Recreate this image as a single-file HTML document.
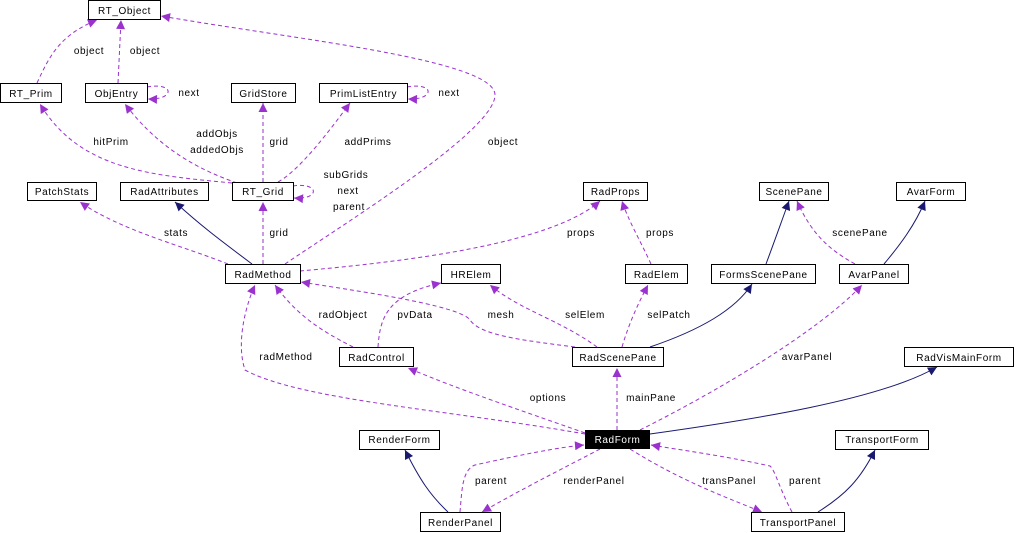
<!DOCTYPE html>
<html><head><meta charset="utf-8"><style>
html,body{margin:0;padding:0;background:#fff;}
svg{display:block;}
text{font-family:"Liberation Sans",sans-serif;font-size:10px;letter-spacing:0.6px;fill:#000;}
.b{fill:#fff;stroke:#000;stroke-width:1;}
.p{fill:none;stroke:#9a32cd;stroke-width:1;stroke-dasharray:4,3;}
.n{fill:none;stroke:#191970;stroke-width:1;}
</style></head><body>
<svg width="1016" height="533" viewBox="0 0 1016 533" xmlns="http://www.w3.org/2000/svg">
<defs>
<marker id="ap" viewBox="0 0 10 10" refX="10" refY="5" markerWidth="12" markerHeight="9" markerUnits="userSpaceOnUse" orient="auto"><path d="M0,0 L10,5 L0,10 z" fill="#9a32cd"/></marker>
<marker id="an" viewBox="0 0 10 10" refX="10" refY="5" markerWidth="12" markerHeight="9" markerUnits="userSpaceOnUse" orient="auto"><path d="M0,0 L10,5 L0,10 z" fill="#191970"/></marker>
</defs>
<g>
<path class="p" marker-end="url(#ap)" d="M37,83 C50,55 60,35 97,20"/>
<path class="p" marker-end="url(#ap)" d="M118,83 L121,20"/>
<path class="p" marker-end="url(#ap)" d="M285,264 C350,220 495,130 495,95 C495,60 300,40 161,16"/>
<path class="p" marker-end="url(#ap)" d="M147,87 C175,82 175,100 148,99"/>
<path class="p" marker-end="url(#ap)" d="M407,87 C435,82 435,100 408,99"/>
<path class="p" marker-end="url(#ap)" d="M232,183 C150,175 80,170 40,104"/>
<path class="p" marker-end="url(#ap)" d="M237,183 C200,170 160,150 125,104"/>
<path class="p" marker-end="url(#ap)" d="M263,182 L263,103"/>
<path class="p" marker-end="url(#ap)" d="M278,182 C300,170 330,130 350,103"/>
<path class="p" marker-end="url(#ap)" d="M293,186 C320,182 320,200 294,198"/>
<path class="p" marker-end="url(#ap)" d="M263,264 L263,202"/>
<path class="p" marker-end="url(#ap)" d="M228,264 C180,245 120,230 80,202"/>
<path class="n" marker-end="url(#an)" d="M252,264 C220,240 200,225 175,202"/>
<path class="p" marker-end="url(#ap)" d="M300,271 C400,262 550,245 600,201"/>
<path class="p" marker-end="url(#ap)" d="M651,264 C640,240 628,220 622,201"/>
<path class="n" marker-end="url(#an)" d="M766,264 C775,240 782,220 789,201"/>
<path class="p" marker-end="url(#ap)" d="M855,264 C830,250 812,235 797,201"/>
<path class="n" marker-end="url(#an)" d="M884,264 C900,245 915,225 925,201"/>
<path class="p" marker-end="url(#ap)" d="M353,347 C330,335 300,320 275,285"/>
<path class="p" marker-end="url(#ap)" d="M378,347 C380,320 385,295 441,283"/>
<path class="p" marker-end="url(#ap)" d="M575,347 C520,340 480,335 470,320 C460,305 350,290 301,282"/>
<path class="p" marker-end="url(#ap)" d="M597,347 C560,320 520,310 490,285"/>
<path class="p" marker-end="url(#ap)" d="M622,347 C630,320 640,300 648,285"/>
<path class="n" marker-end="url(#an)" d="M650,347 C700,330 735,310 752,284"/>
<path class="p" marker-end="url(#ap)" d="M585,434 C450,410 300,400 245,370 C235,340 248,300 255,285"/>
<path class="p" marker-end="url(#ap)" d="M585,433 C520,410 460,390 408,368"/>
<path class="p" marker-end="url(#ap)" d="M617,430 L617,368"/>
<path class="p" marker-end="url(#ap)" d="M640,430 C720,390 820,330 862,285"/>
<path class="n" marker-end="url(#an)" d="M650,434 C750,420 880,400 937,367"/>
<path class="p" marker-end="url(#ap)" d="M460,512 C462,490 462,470 475,465 C520,455 560,447 584,445"/>
<path class="p" marker-end="url(#ap)" d="M600,449 C560,470 520,490 482,512"/>
<path class="n" marker-end="url(#an)" d="M448,512 C430,495 420,480 405,450"/>
<path class="p" marker-end="url(#ap)" d="M630,449 C680,480 720,495 762,512"/>
<path class="p" marker-end="url(#ap)" d="M792,512 C780,490 775,470 770,466 C720,455 680,450 651,445"/>
<path class="n" marker-end="url(#an)" d="M818,512 C845,495 860,480 875,450"/>
</g>
<g>
<rect class="b" x="88.5" y="0.5" width="72" height="19"/><text x="124.5" y="14" text-anchor="middle">RT_Object</text>
<rect class="b" x="0.5" y="83.5" width="61" height="19"/><text x="31" y="97" text-anchor="middle">RT_Prim</text>
<rect class="b" x="85.5" y="83.5" width="62" height="19"/><text x="116.5" y="97" text-anchor="middle">ObjEntry</text>
<rect class="b" x="231.5" y="83.5" width="64" height="19"/><text x="263.5" y="97" text-anchor="middle">GridStore</text>
<rect class="b" x="319.5" y="83.5" width="88" height="19"/><text x="363.5" y="97" text-anchor="middle">PrimListEntry</text>
<rect class="b" x="27.5" y="182.5" width="69" height="18"/><text x="62" y="195" text-anchor="middle">PatchStats</text>
<rect class="b" x="120.5" y="182.5" width="88" height="18"/><text x="164.5" y="195" text-anchor="middle">RadAttributes</text>
<rect class="b" x="232.5" y="182.5" width="61" height="18"/><text x="263" y="195" text-anchor="middle">RT_Grid</text>
<rect class="b" x="583.5" y="182.5" width="64" height="18"/><text x="615.5" y="195" text-anchor="middle">RadProps</text>
<rect class="b" x="759.5" y="182.5" width="69" height="18"/><text x="794" y="195" text-anchor="middle">ScenePane</text>
<rect class="b" x="896.5" y="182.5" width="69" height="18"/><text x="931" y="195" text-anchor="middle">AvarForm</text>
<rect class="b" x="225.5" y="264.5" width="75" height="19"/><text x="263" y="278" text-anchor="middle">RadMethod</text>
<rect class="b" x="441.5" y="264.5" width="59" height="19"/><text x="471" y="278" text-anchor="middle">HRElem</text>
<rect class="b" x="625.5" y="264.5" width="62" height="19"/><text x="656.5" y="278" text-anchor="middle">RadElem</text>
<rect class="b" x="711.5" y="264.5" width="104" height="19"/><text x="763.5" y="278" text-anchor="middle">FormsScenePane</text>
<rect class="b" x="839.5" y="264.5" width="69" height="19"/><text x="874" y="278" text-anchor="middle">AvarPanel</text>
<rect class="b" x="339.5" y="347.5" width="74" height="19"/><text x="376.5" y="361" text-anchor="middle">RadControl</text>
<rect class="b" x="572.5" y="347.5" width="91" height="19"/><text x="618" y="361" text-anchor="middle">RadScenePane</text>
<rect class="b" x="904.5" y="347.5" width="109" height="19"/><text x="959" y="361" text-anchor="middle">RadVisMainForm</text>
<rect x="585" y="430" width="65" height="19" fill="#000"/><text x="617.5" y="443" text-anchor="middle" style="fill:#fff">RadForm</text>
<rect class="b" x="359.5" y="430.5" width="80" height="19"/><text x="399.5" y="443" text-anchor="middle">RenderForm</text>
<rect class="b" x="835.5" y="430.5" width="93" height="19"/><text x="882" y="443" text-anchor="middle">TransportForm</text>
<rect class="b" x="420.5" y="512.5" width="80" height="19"/><text x="460.5" y="526" text-anchor="middle">RenderPanel</text>
<rect class="b" x="751.5" y="512.5" width="93" height="19"/><text x="798" y="526" text-anchor="middle">TransportPanel</text>
</g>
<g text-anchor="middle">
<text x="89" y="54">object</text>
<text x="145" y="54">object</text>
<text x="189" y="96">next</text>
<text x="449" y="96">next</text>
<text x="111" y="145">hitPrim</text>
<text x="217" y="137">addObjs</text>
<text x="217" y="153">addedObjs</text>
<text x="279" y="145">grid</text>
<text x="368" y="145">addPrims</text>
<text x="503" y="145">object</text>
<text x="346" y="178">subGrids</text>
<text x="348" y="194">next</text>
<text x="349" y="210">parent</text>
<text x="176" y="236">stats</text>
<text x="279" y="236">grid</text>
<text x="581" y="236">props</text>
<text x="660" y="236">props</text>
<text x="860" y="236">scenePane</text>
<text x="343" y="318">radObject</text>
<text x="415" y="318">pvData</text>
<text x="501" y="318">mesh</text>
<text x="585" y="318">selElem</text>
<text x="669" y="318">selPatch</text>
<text x="286" y="360">radMethod</text>
<text x="807" y="360">avarPanel</text>
<text x="548" y="401">options</text>
<text x="651" y="401">mainPane</text>
<text x="491" y="484">parent</text>
<text x="594" y="484">renderPanel</text>
<text x="729" y="484">transPanel</text>
<text x="805" y="484">parent</text>
</g>
</svg>
</body></html>
